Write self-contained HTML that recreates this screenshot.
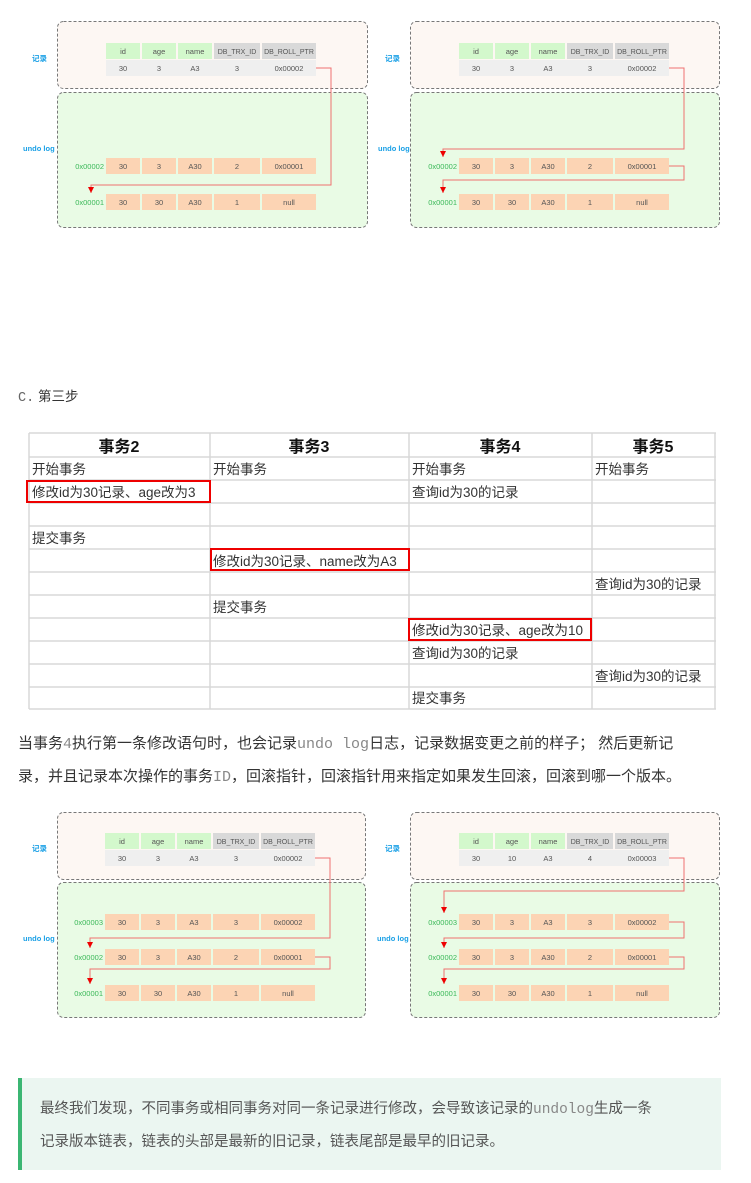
<!DOCTYPE html>
<html><head><meta charset="utf-8"><style>
body{margin:0;background:#fff;}
svg{display:block;font-family:"Liberation Sans","Noto Sans CJK SC",sans-serif;}
.c{font-size:7.5px;fill:#555;text-anchor:middle}
.d{font-size:7px;fill:#555;text-anchor:middle}
.a{font-size:7.5px;fill:#3cb95a;text-anchor:end}
.l{font-size:7.5px;fill:#1aa0e6;font-weight:bold}
.t{font-size:13.5px;fill:#333}
.h{font-size:16px;fill:#111;font-weight:bold;text-anchor:middle}
.p{font-size:15px;fill:#333}
.m{font-family:"Liberation Mono",monospace;fill:#888}
.ar{stroke:#f07070;stroke-width:1;fill:none}
</style></head><body>
<svg width="751" height="1183" viewBox="0 0 751 1183">
<defs><marker id="ah" markerWidth="6" markerHeight="6" refX="3" refY="6" orient="0" markerUnits="userSpaceOnUse"><path d="M0,0 L6,0 L3,6 z" fill="#e00"/></marker></defs>

<g>
<rect x="57.5" y="21.5" width="310" height="67" rx="6" fill="#fdf7f3" stroke="#777" stroke-dasharray="3,2"/>
<rect x="57.5" y="92.5" width="310" height="135" rx="6" fill="#e9fbe5" stroke="#777" stroke-dasharray="3,2"/>
<text class="l" x="32" y="61">记录</text><text class="l" x="23" y="151">undo log</text>
<rect x="106" y="43" width="34" height="16" fill="#d3f8cc"/><rect x="142" y="43" width="34" height="16" fill="#d3f8cc"/><rect x="178" y="43" width="34" height="16" fill="#d3f8cc"/><rect x="214" y="43" width="46" height="16" fill="#d9d9d9"/><rect x="262" y="43" width="54" height="16" fill="#d9d9d9"/>
<text class="c" x="123" y="54">id</text><text class="c" x="159" y="54">age</text><text class="c" x="195" y="54">name</text><text class="d" x="237" y="54">DB_TRX_ID</text><text class="d" x="289" y="54">DB_ROLL_PTR</text>
<rect x="106" y="60" width="210" height="16" fill="#efefef"/>
<text class="c" x="123" y="71">30</text><text class="c" x="159" y="71">3</text><text class="c" x="195" y="71">A3</text><text class="c" x="237" y="71">3</text><text class="c" x="289" y="71">0x00002</text>
<g fill="#fcd4b4"><rect x="106" y="158" width="34" height="16"/><rect x="142" y="158" width="34" height="16"/><rect x="178" y="158" width="34" height="16"/><rect x="214" y="158" width="46" height="16"/><rect x="262" y="158" width="54" height="16"/>
<rect x="106" y="194" width="34" height="16"/><rect x="142" y="194" width="34" height="16"/><rect x="178" y="194" width="34" height="16"/><rect x="214" y="194" width="46" height="16"/><rect x="262" y="194" width="54" height="16"/></g>
<text class="a" x="104" y="169">0x00002</text><text class="c" x="123" y="169">30</text><text class="c" x="159" y="169">3</text><text class="c" x="195" y="169">A30</text><text class="c" x="237" y="169">2</text><text class="c" x="289" y="169">0x00001</text>
<text class="a" x="104" y="205">0x00001</text><text class="c" x="123" y="205">30</text><text class="c" x="159" y="205">30</text><text class="c" x="195" y="205">A30</text><text class="c" x="237" y="205">1</text><text class="c" x="289" y="205">null</text>
<path class="ar" d="M316,68 H331 V185 H91 V193" marker-end="url(#ah)"/>
</g>

<g>
<rect x="410.5" y="21.5" width="309" height="67" rx="6" fill="#fdf7f3" stroke="#777" stroke-dasharray="3,2"/>
<rect x="410.5" y="92.5" width="309" height="135" rx="6" fill="#e9fbe5" stroke="#777" stroke-dasharray="3,2"/>
<text class="l" x="385" y="61">记录</text><text class="l" x="378" y="151">undo log</text>
<rect x="459" y="43" width="34" height="16" fill="#d3f8cc"/><rect x="495" y="43" width="34" height="16" fill="#d3f8cc"/><rect x="531" y="43" width="34" height="16" fill="#d3f8cc"/><rect x="567" y="43" width="46" height="16" fill="#d9d9d9"/><rect x="615" y="43" width="54" height="16" fill="#d9d9d9"/>
<text class="c" x="476" y="54">id</text><text class="c" x="512" y="54">age</text><text class="c" x="548" y="54">name</text><text class="d" x="590" y="54">DB_TRX_ID</text><text class="d" x="642" y="54">DB_ROLL_PTR</text>
<rect x="459" y="60" width="210" height="16" fill="#efefef"/>
<text class="c" x="476" y="71">30</text><text class="c" x="512" y="71">3</text><text class="c" x="548" y="71">A3</text><text class="c" x="590" y="71">3</text><text class="c" x="642" y="71">0x00002</text>
<g fill="#fcd4b4"><rect x="459" y="158" width="34" height="16"/><rect x="495" y="158" width="34" height="16"/><rect x="531" y="158" width="34" height="16"/><rect x="567" y="158" width="46" height="16"/><rect x="615" y="158" width="54" height="16"/>
<rect x="459" y="194" width="34" height="16"/><rect x="495" y="194" width="34" height="16"/><rect x="531" y="194" width="34" height="16"/><rect x="567" y="194" width="46" height="16"/><rect x="615" y="194" width="54" height="16"/></g>
<text class="a" x="457" y="169">0x00002</text><text class="c" x="476" y="169">30</text><text class="c" x="512" y="169">3</text><text class="c" x="548" y="169">A30</text><text class="c" x="590" y="169">2</text><text class="c" x="642" y="169">0x00001</text>
<text class="a" x="457" y="205">0x00001</text><text class="c" x="476" y="205">30</text><text class="c" x="512" y="205">30</text><text class="c" x="548" y="205">A30</text><text class="c" x="590" y="205">1</text><text class="c" x="642" y="205">null</text>
<path class="ar" d="M669,68 H684 V149 H443 V157" marker-end="url(#ah)"/>
<path class="ar" d="M669,166 H684 V180 H443 V193" marker-end="url(#ah)"/>
</g>

<text x="18" y="401" class="t"><tspan class="m" style="fill:#666">C.</tspan> 第三步</text>

<g stroke="#d8d8d8" stroke-width="1.5">
<line x1="29" y1="433" x2="716" y2="433"/>
<line x1="29" y1="457" x2="716" y2="457"/><line x1="29" y1="480" x2="716" y2="480"/><line x1="29" y1="503" x2="716" y2="503"/><line x1="29" y1="526" x2="716" y2="526"/><line x1="29" y1="549" x2="716" y2="549"/><line x1="29" y1="572" x2="716" y2="572"/><line x1="29" y1="595" x2="716" y2="595"/><line x1="29" y1="618" x2="716" y2="618"/><line x1="29" y1="641" x2="716" y2="641"/><line x1="29" y1="664" x2="716" y2="664"/><line x1="29" y1="687" x2="716" y2="687"/><line x1="29" y1="709" x2="716" y2="709"/>
<line x1="29" y1="433" x2="29" y2="709"/><line x1="210" y1="433" x2="210" y2="709"/><line x1="409" y1="433" x2="409" y2="709"/><line x1="592" y1="433" x2="592" y2="709"/><line x1="715" y1="433" x2="715" y2="709"/>
</g>
<text class="h" x="119" y="452">事务2</text><text class="h" x="309" y="452">事务3</text><text class="h" x="500" y="452">事务4</text><text class="h" x="653" y="452">事务5</text>
<text class="t" x="32" y="474">开始事务</text><text class="t" x="213" y="474">开始事务</text><text class="t" x="412" y="474">开始事务</text><text class="t" x="595" y="474">开始事务</text>
<text class="t" x="32" y="497">修改id为30记录、age改为3</text><text class="t" x="412" y="497">查询id为30的记录</text>
<text class="t" x="32" y="543">提交事务</text>
<text class="t" x="213" y="566">修改id为30记录、name改为A3</text>
<text class="t" x="595" y="589">查询id为30的记录</text>
<text class="t" x="213" y="612">提交事务</text>
<text class="t" x="412" y="635">修改id为30记录、age改为10</text>
<text class="t" x="412" y="658">查询id为30的记录</text>
<text class="t" x="595" y="681">查询id为30的记录</text>
<text class="t" x="412" y="703">提交事务</text>
<g fill="none" stroke="#e00" stroke-width="2">
<rect x="27" y="481" width="183" height="21"/><rect x="211" y="549" width="198" height="21"/><rect x="409" y="619" width="182" height="21"/>
</g>

<text class="p" x="18" y="748">当事务<tspan class="m">4</tspan>执行第一条修改语句时，也会记录<tspan class="m">undo log</tspan>日志，记录数据变更之前的样子； 然后更新记</text>
<text class="p" x="18" y="781">录，并且记录本次操作的事务<tspan class="m">ID</tspan>，回滚指针，回滚指针用来指定如果发生回滚，回滚到哪一个版本。</text>

<g>
<rect x="57.5" y="812.5" width="308" height="67" rx="6" fill="#fdf7f3" stroke="#777" stroke-dasharray="3,2"/>
<rect x="57.5" y="882.5" width="308" height="135" rx="6" fill="#e9fbe5" stroke="#777" stroke-dasharray="3,2"/>
<text class="l" x="32" y="851">记录</text><text class="l" x="23" y="941">undo log</text>
<rect x="105" y="833" width="34" height="16" fill="#d3f8cc"/><rect x="141" y="833" width="34" height="16" fill="#d3f8cc"/><rect x="177" y="833" width="34" height="16" fill="#d3f8cc"/><rect x="213" y="833" width="46" height="16" fill="#d9d9d9"/><rect x="261" y="833" width="54" height="16" fill="#d9d9d9"/>
<text class="c" x="122" y="844">id</text><text class="c" x="158" y="844">age</text><text class="c" x="194" y="844">name</text><text class="d" x="236" y="844">DB_TRX_ID</text><text class="d" x="288" y="844">DB_ROLL_PTR</text>
<rect x="105" y="850" width="210" height="16" fill="#efefef"/>
<text class="c" x="122" y="861">30</text><text class="c" x="158" y="861">3</text><text class="c" x="194" y="861">A3</text><text class="c" x="236" y="861">3</text><text class="c" x="288" y="861">0x00002</text>
<g fill="#fcd4b4"><rect x="105" y="914" width="34" height="16"/><rect x="141" y="914" width="34" height="16"/><rect x="177" y="914" width="34" height="16"/><rect x="213" y="914" width="46" height="16"/><rect x="261" y="914" width="54" height="16"/>
<rect x="105" y="949" width="34" height="16"/><rect x="141" y="949" width="34" height="16"/><rect x="177" y="949" width="34" height="16"/><rect x="213" y="949" width="46" height="16"/><rect x="261" y="949" width="54" height="16"/>
<rect x="105" y="985" width="34" height="16"/><rect x="141" y="985" width="34" height="16"/><rect x="177" y="985" width="34" height="16"/><rect x="213" y="985" width="46" height="16"/><rect x="261" y="985" width="54" height="16"/></g>
<text class="a" x="103" y="925">0x00003</text><text class="c" x="122" y="925">30</text><text class="c" x="158" y="925">3</text><text class="c" x="194" y="925">A3</text><text class="c" x="236" y="925">3</text><text class="c" x="288" y="925">0x00002</text>
<text class="a" x="103" y="960">0x00002</text><text class="c" x="122" y="960">30</text><text class="c" x="158" y="960">3</text><text class="c" x="194" y="960">A30</text><text class="c" x="236" y="960">2</text><text class="c" x="288" y="960">0x00001</text>
<text class="a" x="103" y="996">0x00001</text><text class="c" x="122" y="996">30</text><text class="c" x="158" y="996">30</text><text class="c" x="194" y="996">A30</text><text class="c" x="236" y="996">1</text><text class="c" x="288" y="996">null</text>
<path class="ar" d="M315,858 H330 V938 H90 V948" marker-end="url(#ah)"/>
<path class="ar" d="M315,957 H330 V969 H90 V984" marker-end="url(#ah)"/>
</g>

<g>
<rect x="410.5" y="812.5" width="309" height="67" rx="6" fill="#fdf7f3" stroke="#777" stroke-dasharray="3,2"/>
<rect x="410.5" y="882.5" width="309" height="135" rx="6" fill="#e9fbe5" stroke="#777" stroke-dasharray="3,2"/>
<text class="l" x="385" y="851">记录</text><text class="l" x="377" y="941">undo log</text>
<rect x="459" y="833" width="34" height="16" fill="#d3f8cc"/><rect x="495" y="833" width="34" height="16" fill="#d3f8cc"/><rect x="531" y="833" width="34" height="16" fill="#d3f8cc"/><rect x="567" y="833" width="46" height="16" fill="#d9d9d9"/><rect x="615" y="833" width="54" height="16" fill="#d9d9d9"/>
<text class="c" x="476" y="844">id</text><text class="c" x="512" y="844">age</text><text class="c" x="548" y="844">name</text><text class="d" x="590" y="844">DB_TRX_ID</text><text class="d" x="642" y="844">DB_ROLL_PTR</text>
<rect x="459" y="850" width="210" height="16" fill="#efefef"/>
<text class="c" x="476" y="861">30</text><text class="c" x="512" y="861">10</text><text class="c" x="548" y="861">A3</text><text class="c" x="590" y="861">4</text><text class="c" x="642" y="861">0x00003</text>
<g fill="#fcd4b4"><rect x="459" y="914" width="34" height="16"/><rect x="495" y="914" width="34" height="16"/><rect x="531" y="914" width="34" height="16"/><rect x="567" y="914" width="46" height="16"/><rect x="615" y="914" width="54" height="16"/>
<rect x="459" y="949" width="34" height="16"/><rect x="495" y="949" width="34" height="16"/><rect x="531" y="949" width="34" height="16"/><rect x="567" y="949" width="46" height="16"/><rect x="615" y="949" width="54" height="16"/>
<rect x="459" y="985" width="34" height="16"/><rect x="495" y="985" width="34" height="16"/><rect x="531" y="985" width="34" height="16"/><rect x="567" y="985" width="46" height="16"/><rect x="615" y="985" width="54" height="16"/></g>
<text class="a" x="457" y="925">0x00003</text><text class="c" x="476" y="925">30</text><text class="c" x="512" y="925">3</text><text class="c" x="548" y="925">A3</text><text class="c" x="590" y="925">3</text><text class="c" x="642" y="925">0x00002</text>
<text class="a" x="457" y="960">0x00002</text><text class="c" x="476" y="960">30</text><text class="c" x="512" y="960">3</text><text class="c" x="548" y="960">A30</text><text class="c" x="590" y="960">2</text><text class="c" x="642" y="960">0x00001</text>
<text class="a" x="457" y="996">0x00001</text><text class="c" x="476" y="996">30</text><text class="c" x="512" y="996">30</text><text class="c" x="548" y="996">A30</text><text class="c" x="590" y="996">1</text><text class="c" x="642" y="996">null</text>
<path class="ar" d="M669,858 H684 V891 H444 V913" marker-end="url(#ah)"/>
<path class="ar" d="M669,922 H684 V938 H444 V948" marker-end="url(#ah)"/>
<path class="ar" d="M669,957 H684 V969 H444 V984" marker-end="url(#ah)"/>
</g>

<rect x="18" y="1078" width="703" height="92" fill="#ebf6f1"/>
<rect x="18" y="1078" width="4" height="92" fill="#3bb673"/>
<text class="p" x="40" y="1113" style="fill:#555;font-size:14.5px">最终我们发现，不同事务或相同事务对同一条记录进行修改，会导致该记录的<tspan class="m" style="fill:#888">undolog</tspan>生成一条</text>
<text class="p" x="40" y="1146" style="fill:#555;font-size:14.5px">记录版本链表，链表的头部是最新的旧记录，链表尾部是最早的旧记录。</text>
</svg>
</body></html>
